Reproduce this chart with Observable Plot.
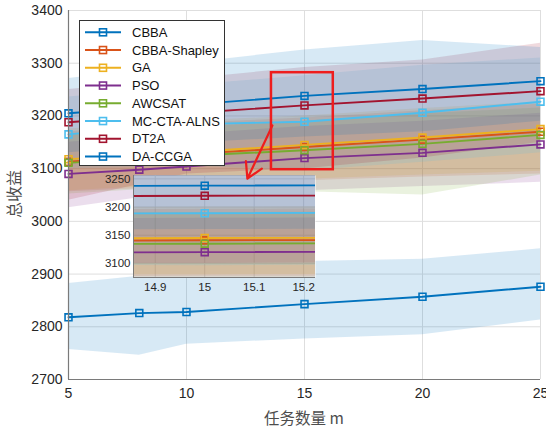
<!DOCTYPE html>
<html><head><meta charset="utf-8">
<script src="https://cdn.jsdelivr.net/npm/d3@7"></script>
<script src="https://cdn.jsdelivr.net/npm/@observablehq/plot@0.6"></script>
<style>
body{margin:0;background:#fff;}
#chart{position:relative;width:546px;height:428px;font-family:"Liberation Sans",Arial,sans-serif;overflow:hidden;}
#chart > svg, #chart > div{position:absolute;}
.lbl{color:#4d4d4d;font-family:"Noto Sans CJK SC","Liberation Sans",sans-serif;font-size:15.5px;white-space:nowrap;}
</style></head><body><div id="chart"></div>
<script>
// ---- data ----
const taskCounts = [5, 8, 10, 15, 20, 25];
const seriesNames = ["CBBA", "CBBA-Shapley", "GA", "PSO", "AWCSAT", "MC-CTA-ALNS", "DT2A", "DA-CCGA"];
const seriesColors = ["#0072BD", "#D95319", "#EDB120", "#7E2F8E", "#77AC30", "#4DBEEE", "#A2142F", "#0072BD"];

const cbba        = [2818, 2826, 2828, 2843, 2857, 2876];
const cbbaShapley = [3113, 3122, 3127, 3141, 3155, 3170];
const ga          = [3118, 3125, 3131, 3145, 3159, 3175];
const pso         = [3090, 3098, 3104, 3120, 3130, 3146];
const awcsat      = [3111, 3119, 3124, 3135, 3147, 3164];
const mcCtaAlns   = [3165, 3178, 3184, 3189, 3206, 3227];
const dt2a        = [3188, 3198, 3205, 3220, 3233, 3247];
const daCcga      = [3205, 3215, 3221, 3238, 3251, 3266];

const cbbaLo        = [2757, 2746, 2767, 2777, 2785, 2813];
const cbbaHi        = [2882, 2896, 2920, 2924, 2928, 2948];
const cbbaShapleyLo = [3056, 3062, 3068, 3077, 3084, 3090];
const cbbaShapleyHi = [3170, 3180, 3186, 3196, 3210, 3222];
const gaLo          = [3058, 3065, 3070, 3080, 3088, 3095];
const gaHi          = [3175, 3184, 3190, 3200, 3214, 3226];
const psoLo         = [3026, 3045, 3050, 3058, 3066, 3074];
const psoHi         = [3150, 3160, 3165, 3180, 3190, 3205];
const awcsatLo      = [3052, 3060, 3062, 3056, 3050, 3088];
const awcsatHi      = [3165, 3172, 3178, 3190, 3204, 3215];
const mcCtaAlnsLo   = [3100, 3102, 3105, 3096, 3112, 3130];
const mcCtaAlnsHi   = [3236, 3248, 3258, 3276, 3296, 3310];
const dt2aLo        = [3040, 3070, 3090, 3100, 3120, 3150];
const dt2aHi        = [3250, 3262, 3270, 3292, 3306, 3338];
const daCcgaLo      = [3130, 3140, 3148, 3160, 3170, 3190];
const daCcgaHi      = [3271, 3286, 3300, 3325, 3343, 3330];

const xTicks = [5, 10, 15, 20, 25];
const yTicks = [2700, 2800, 2900, 3000, 3100, 3200, 3300, 3400];
const insetXTicks = [14.9, 15, 15.1, 15.2];
const insetYTicks = [3100, 3150, 3200, 3250];
const insetXDomain = [14.856, 15.224];
const insetYDomain = [3075, 3256];
const zoomBox = [{x1: 13.6, x2: 16.22, y1: 3098, y2: 3282}];
const zoomArrow = [{x1: 13.64, y1: 3182, x2: 12.58, y2: 3081}];
const xLabel = "任务数量 m";
const yLabel = "总收益";

// ---- build table ----
const means = [cbba, cbbaShapley, ga, pso, awcsat, mcCtaAlns, dt2a, daCcga];
const los = [cbbaLo, cbbaShapleyLo, gaLo, psoLo, awcsatLo, mcCtaAlnsLo, dt2aLo, daCcgaLo];
const his = [cbbaHi, cbbaShapleyHi, gaHi, psoHi, awcsatHi, mcCtaAlnsHi, dt2aHi, daCcgaHi];
const rows = [];
seriesNames.forEach((s, i) => taskCounts.forEach((x, j) => rows.push({series: s, x, y: means[i][j], lo: los[i][j], hi: his[i][j]})));

const color = {domain: seriesNames, range: seriesColors};
const plain = d => `${d}`;
const chart = document.getElementById("chart");
const W = 546, H = 428, mT = 10, mR = 6, mB = 49, mL = 68;
const bandOpacity = 0.155;

const main = Plot.plot({
  width: W, height: H, marginTop: mT, marginRight: mR, marginBottom: mB, marginLeft: mL,
  style: {background: "transparent", fontSize: "14px", color: "#262626", fontFamily: "'Liberation Sans', Arial, sans-serif"},
  x: {domain: [5, 25], ticks: xTicks, tickSize: 0, tickPadding: 9, tickFormat: plain, label: null},
  y: {domain: [2700, 3400], ticks: yTicks, tickSize: 0, tickPadding: 6, tickFormat: plain, label: null},
  color,
  marks: [
    Plot.ruleX(xTicks, {stroke: "#dedede", strokeWidth: 1}),
    Plot.ruleY(yTicks, {stroke: "#dedede", strokeWidth: 1}),
    Plot.areaY(rows, {x: "x", y1: "lo", y2: "hi", z: "series", fill: "series", fillOpacity: bandOpacity}),
    Plot.line(rows, {x: "x", y: "y", z: "series", stroke: "series", strokeWidth: 1.9}),
    Plot.dot(rows, {x: "x", y: "y", stroke: "series", symbol: "square", r: 3.9, strokeWidth: 1.6, fill: "none"}),
    Plot.ruleX([5], {stroke: "#7a7a7a", strokeWidth: 1.2}),
    Plot.ruleY([2700], {stroke: "#7a7a7a", strokeWidth: 1.2}),
    Plot.rect(zoomBox, {x1: "x1", x2: "x2", y1: "y1", y2: "y2", fill: "none", stroke: "#ee1d1d", strokeWidth: 2.5})
  ]
});
main.style.left = "0px"; main.style.top = "0px";
chart.appendChild(main);

// ---- inset ----
const inset = Plot.plot({
  width: 232, height: 130, marginLeft: 40, marginTop: 5, marginRight: 10, marginBottom: 23,
  style: {background: "transparent", fontSize: "11.5px", color: "#262626", fontFamily: "'Liberation Sans', Arial, sans-serif"},
  x: {domain: insetXDomain, ticks: insetXTicks, tickSize: 0, tickPadding: 5, tickFormat: plain, label: null},
  y: {domain: insetYDomain, ticks: insetYTicks, tickSize: 0, tickPadding: 3, tickFormat: plain, label: null},
  color,
  marks: [
    Plot.frame({fill: "white", stroke: "none"}),
    Plot.ruleX(insetXTicks, {stroke: "#dedede"}),
    Plot.ruleY(insetYTicks, {stroke: "#dedede"}),
    Plot.areaY(rows, {x: "x", y1: "lo", y2: "hi", z: "series", fill: "series", fillOpacity: bandOpacity, clip: true}),
    Plot.line(rows, {x: "x", y: "y", z: "series", stroke: "series", strokeWidth: 1.9, clip: true}),
    Plot.dot(rows, {x: "x", y: "y", stroke: "series", symbol: "square", r: 3.9, strokeWidth: 1.6, fill: "none", clip: true}),
    Plot.ruleX([insetXDomain[0]], {stroke: "#7a7a7a", strokeWidth: 1}),
    Plot.ruleY([insetYDomain[0]], {stroke: "#7a7a7a", strokeWidth: 1})
  ]
});
inset.style.left = "93px"; inset.style.top = "170px";
chart.appendChild(inset);

// ---- arrow overlay ----
const overlay = Plot.plot({
  width: W, height: H, marginTop: mT, marginRight: mR, marginBottom: mB, marginLeft: mL,
  style: {background: "transparent"},
  x: {domain: [5, 25], axis: null},
  y: {domain: [2700, 3400], axis: null},
  marks: [
    Plot.arrow(zoomArrow, {x1: "x1", y1: "y1", x2: "x2", y2: "y2", stroke: "#ee1d1d", strokeWidth: 2.2, headLength: 12})
  ]
});
overlay.style.left = "0px"; overlay.style.top = "0px"; overlay.style.pointerEvents = "none";
chart.appendChild(overlay);

// ---- legend ----
const lg = d3.select(chart).append("svg")
  .attr("width", 146).attr("height", 147)
  .style("left", "79px").style("top", "20px");
lg.append("rect").attr("x", 0.5).attr("y", 0.5).attr("width", 145).attr("height", 145)
  .attr("fill", "white").attr("stroke", "#333").attr("stroke-width", 1);
seriesNames.forEach((s, i) => {
  const cy = 12.3 + i * 17.75;
  const g = lg.append("g");
  g.append("line").attr("x1", 6).attr("x2", 42).attr("y1", cy).attr("y2", cy)
    .attr("stroke", seriesColors[i]).attr("stroke-width", 1.9);
  g.append("rect").attr("x", 24 - 3.5).attr("y", cy - 3.5).attr("width", 7).attr("height", 7)
    .attr("fill", "none").attr("stroke", seriesColors[i]).attr("stroke-width", 1.6);
  g.append("text").attr("x", 53).attr("y", cy).attr("dy", "0.36em")
    .attr("font-size", "13px").attr("fill", "#111")
    .attr("font-family", "'Liberation Sans', Arial, sans-serif").text(s);
});

// ---- axis titles ----
const xl = document.createElement("div");
xl.className = "lbl"; xl.textContent = xLabel;
xl.style.left = "304px"; xl.style.top = "417px"; xl.style.transform = "translate(-50%,-50%)";
chart.appendChild(xl);
const yl = document.createElement("div");
yl.className = "lbl"; yl.textContent = yLabel; yl.style.fontSize = "16px";
yl.style.left = "13px"; yl.style.top = "194px"; yl.style.transform = "translate(-50%,-50%) rotate(-90deg)";
chart.appendChild(yl);
</script></body></html>
